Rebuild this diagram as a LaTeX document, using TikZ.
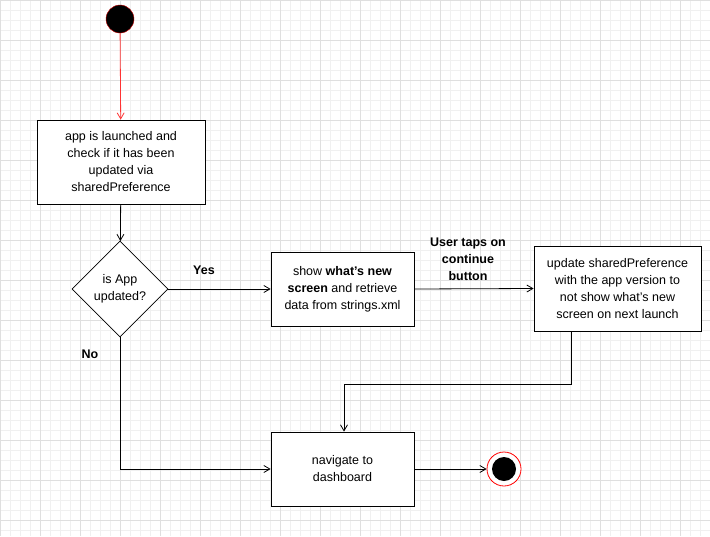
\documentclass[tikz,border=0pt]{standalone}
\usepackage{fontspec}
\setmainfont{Liberation Sans}
\usetikzlibrary{arrows.meta,shapes.geometric}
\begin{document}
\begin{tikzpicture}[x=1pt,y=-1pt,
  box/.style={draw,thick,fill=white,align=center,inner sep=0pt,font=\fontsize{12.5}{17}\selectfont},
  arr/.style={thick,-{Straight Barb[length=6pt,width=7pt]}},
  lbl/.style={font=\fontsize{12.5}{17}\selectfont\bfseries,align=center}]
\useasboundingbox (0,0) rectangle (710,536);
\fill[white] (0,0) rectangle (710,536);
\foreach \i in {0,10,...,710} \draw[gray!12] (\i,0) -- (\i,536);
\foreach \i in {0,10,...,536} \draw[gray!12] (0,\i) -- (710,\i);
\foreach \i in {0,40,...,710} \draw[gray!25] (\i,0) -- (\i,536);
\foreach \i in {0,40,...,536} \draw[gray!25] (0,\i) -- (710,\i);
\node[circle,fill=black,draw=red!80!black,minimum size=28pt,inner sep=0pt] (start) at (120,19) {};
\node[box,minimum width=168pt,minimum height=84pt] (b1) at (121,162) {app is launched and\\check if it has been\\updated via\\sharedPreference};
\node[draw,thick,fill=white,diamond,aspect=1,minimum size=96pt,inner sep=0pt,align=center,font=\fontsize{12.5}{17}\selectfont] (d) at (120,289) {is App\\updated?};
\node[box,minimum width=143pt,minimum height=74pt] (b2) at (342.5,289) {show \textbf{what's new}\\\textbf{screen} and retrieve\\data from strings.xml};
\node[box,minimum width=167pt,minimum height=85pt] (b3) at (617.5,288.5) {update sharedPreference\\with the app version to\\not show what's new\\screen on next launch};
\node[box,minimum width=143pt,minimum height=74pt] (b4) at (342.5,469) {navigate to\\dashboard};
\node[circle,draw=red,thick,fill=white,minimum size=34pt,inner sep=0pt] (end) at (504,469) {};
\node[circle,fill=black,minimum size=24pt,inner sep=0pt] at (end) {};
\draw[arr,red!80] (start) -- (b1);
\draw[arr] (b1) -- (d);
\draw[arr] (d.east) -- (b2.west);
\draw[arr] (b2.east) -- (b3.west);
\coordinate (c1) at (571,384);
\coordinate (c2) at (344,384);
\draw[arr] (b3.south -| c1) -- (c1) -- (c2) -- (b4.north -| c2);
\coordinate (c3) at (120,469);
\draw[arr] (d.south) -- (c3) -- (b4.west);
\draw[arr] (b4.east) -- (end);
\node[lbl] at (204,270) {Yes};
\node[lbl] at (468,259) {User taps on\\continue\\button};
\node[lbl] at (90,354) {No};
\end{tikzpicture}
\end{document}
